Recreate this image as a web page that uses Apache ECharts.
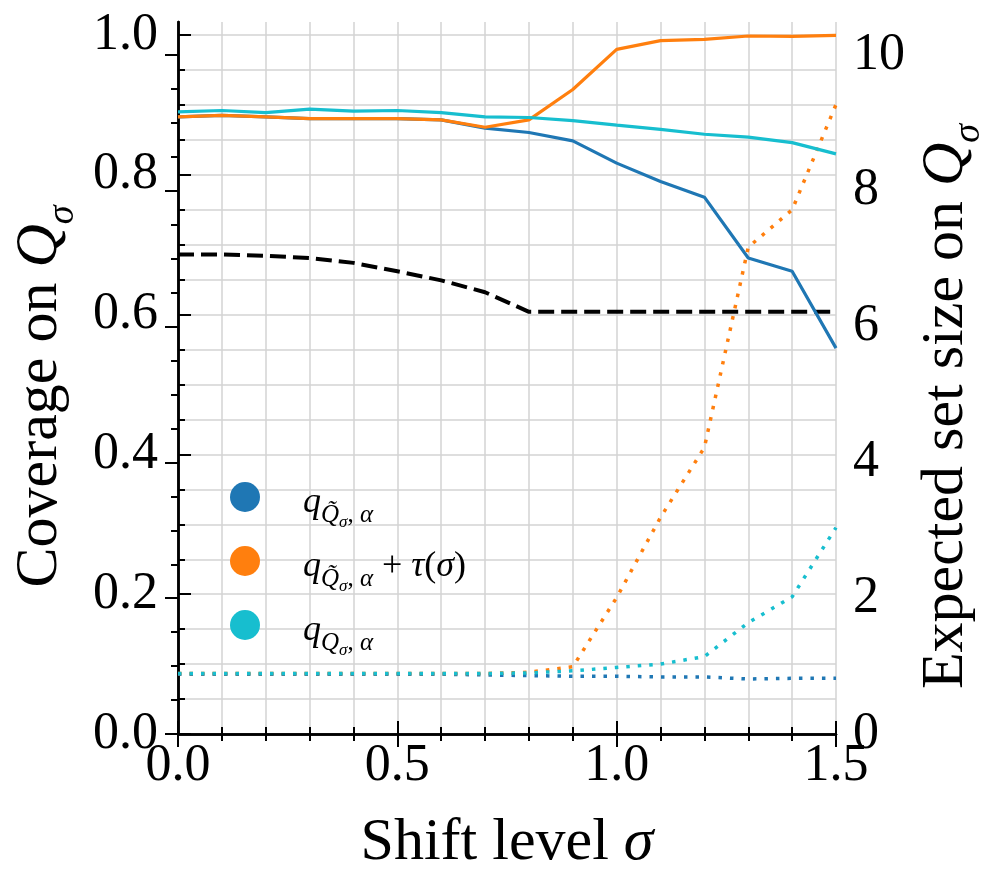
<!DOCTYPE html>
<html>
<head>
<meta charset="utf-8">
<script src="https://cdn.jsdelivr.net/npm/echarts@6/dist/echarts.min.js"></script>
<style>
  html, body { margin: 0; padding: 0; background: #fff; }
  #chart { width: 998px; height: 887px; }
</style>
</head>
<body>
<div id="chart"></div>
<script>
// shift levels
const sigma = [0.0, 0.1, 0.2, 0.3, 0.4, 0.5, 0.6, 0.7, 0.8, 0.9, 1.0, 1.1, 1.2, 1.3, 1.4, 1.5];

// coverage (left axis)
const covBase   = [0.883, 0.885, 0.883, 0.8805, 0.8805, 0.8805, 0.8786, 0.8667, 0.8605, 0.8486, 0.8167, 0.7905, 0.768, 0.681, 0.662, 0.552];
const covShift  = [0.883, 0.885, 0.883, 0.8805, 0.8805, 0.8805, 0.8786, 0.868, 0.8786, 0.922, 0.9795, 0.992, 0.9938, 0.9986, 0.998, 0.9995];
const covOracle = [0.890, 0.892, 0.889, 0.894, 0.891, 0.892, 0.889, 0.883, 0.882, 0.8776, 0.871, 0.865, 0.858, 0.854, 0.846, 0.830];
const covTarget = [0.686, 0.686, 0.684, 0.681, 0.674, 0.662, 0.649, 0.632, 0.604, 0.604, 0.604, 0.604, 0.604, 0.604, 0.604, 0.604];

// expected set size (right axis)
const sizeBase   = [0.88, 0.88, 0.88, 0.88, 0.88, 0.88, 0.88, 0.87, 0.86, 0.85, 0.85, 0.84, 0.84, 0.81, 0.82, 0.82];
const sizeShift  = [0.89, 0.89, 0.89, 0.89, 0.89, 0.89, 0.89, 0.89, 0.91, 0.99, 2.01, 3.19, 4.22, 7.17, 7.72, 9.27];
const sizeOracle = [0.89, 0.89, 0.89, 0.89, 0.89, 0.89, 0.89, 0.89, 0.90, 0.93, 0.98, 1.03, 1.14, 1.64, 2.02, 3.04];

const xTicks = [0.0, 0.5, 1.0, 1.5];
const leftTicks = [0.0, 0.2, 0.4, 0.6, 0.8, 1.0];
const rightTicks = [0, 2, 4, 6, 8, 10];

const FONT = 'Liberation Serif';
const BLUE = '#1f77b4', ORANGE = '#ff7f0e', CYAN = '#17becf';
const GRID_C = '#d3d3d3';

const pairs = arr => sigma.map((s, i) => [s, arr[i]]);

const chart = echarts.init(document.getElementById('chart'));

const box = { left: 178, right: 162, bottom: 153 };

const tickLine = { color: '#000', width: 2 };

const nameRich = {
  n: { fontFamily: FONT, fontSize: 60, lineHeight: 60, color: '#000', verticalAlign: 'top' },
  i: { fontFamily: FONT, fontSize: 60, lineHeight: 60, fontStyle: 'italic', color: '#000', verticalAlign: 'top' },
  s: { fontFamily: FONT, fontSize: 38, lineHeight: 38, fontStyle: 'italic', color: '#000', verticalAlign: 'top', padding: [34, 0, 0, 0] },
  sp: { fontFamily: FONT, fontSize: 38, lineHeight: 38, fontStyle: 'italic', color: '#000', verticalAlign: 'top', padding: [34, 24, 0, 0] }
};

const legRich = {
  q: { fontFamily: FONT, fontSize: 36, lineHeight: 36, fontStyle: 'italic', color: '#000', verticalAlign: 'top', padding: [6, 0, 0, 38] },
  t: { fontFamily: FONT, fontSize: 36, lineHeight: 36, color: '#000', verticalAlign: 'top', padding: [6, 0, 0, 0] },
  ti: { fontFamily: FONT, fontSize: 36, lineHeight: 36, fontStyle: 'italic', color: '#000', verticalAlign: 'top', padding: [6, 0, 0, 0] },
  s: { fontFamily: FONT, fontSize: 25, lineHeight: 25, fontStyle: 'italic', color: '#000', verticalAlign: 'top', padding: [24, 0, 0, 0] },
  su: { fontFamily: FONT, fontSize: 25, lineHeight: 25, color: '#000', verticalAlign: 'top', padding: [24, 0, 0, 0] },
  ss: { fontFamily: FONT, fontSize: 17, lineHeight: 17, fontStyle: 'italic', color: '#000', verticalAlign: 'top', padding: [35, 0, 0, 0] }
};

const legendText = {
  base: '{q|q}{s|Q\u0303}{ss|σ}{su|, }{s|α}',
  shift: '{q|q}{s|Q\u0303}{ss|σ}{su|, }{s|α}{t| + }{ti|τ}{t|(}{ti|σ}{t|)}',
  oracle: '{q|q}{s|Q}{ss|σ}{su|, }{s|α}'
};

const line = (name, arr, color, yIdx, type, width, z) => ({
  name: name,
  type: 'line',
  xAxisIndex: 0,
  yAxisIndex: yIdx,
  data: pairs(arr),
  showSymbol: false,
  symbol: 'none',
  z: z,
  lineStyle: { color: color, width: width, type: type, cap: 'butt' },
  itemStyle: { color: color },
  emphasis: { disabled: true }
});

chart.setOption({
  animation: false,
  backgroundColor: '#fff',
  grid: [
    Object.assign({ top: 22, outerBoundsMode: 'none' }, box),
    Object.assign({ top: 35, outerBoundsMode: 'none' }, box),
    Object.assign({ top: 55, outerBoundsMode: 'none' }, box)
  ],
  legend: {
    data: ['base', 'shift', 'oracle'],
    orient: 'vertical',
    left: 225,
    top: 474,
    icon: 'circle',
    itemWidth: 30,
    itemHeight: 30,
    itemGap: 12,
    selectedMode: false,
    itemStyle: { borderWidth: 0 },
    formatter: n => legendText[n],
    textStyle: { rich: legRich }
  },
  xAxis: [
    {
      gridIndex: 0, type: 'value', position: 'bottom',
      min: 0, max: 1.5, interval: 0.5,
      axisLine: { show: true, lineStyle: { color: '#000', width: 2.5 } },
      axisTick: { show: true, inside: true, length: 13, lineStyle: tickLine },
      minorTick: { show: true, splitNumber: 5, length: 7, lineStyle: tickLine },
      splitLine: { show: true, lineStyle: { color: GRID_C, width: 1.5 } },
      minorSplitLine: { show: true, lineStyle: { color: GRID_C, width: 1.5 } },
      axisLabel: {
        fontFamily: FONT, fontSize: 52, color: '#000', margin: 6,
        formatter: v => xTicks.some(t => Math.abs(t - v) < 1e-6) ? v.toFixed(1) : ''
      },
      name: '{n|Shift level }{i|σ}',
      nameLocation: 'middle',
      nameGap: 79,
      nameTextStyle: { rich: nameRich }
    },
    {
      gridIndex: 0, type: 'value', position: 'top',
      min: 0, max: 1.5, interval: 0.5,
      axisLine: { show: true, lineStyle: { color: '#000', width: 2.5 } },
      axisTick: { show: true, inside: true, length: 13, lineStyle: tickLine },
      minorTick: { show: true, splitNumber: 5, length: 7, lineStyle: tickLine },
      splitLine: { show: false },
      axisLabel: { show: false }
    },
    { gridIndex: 1, type: 'value', min: 0, max: 1.5, show: false },
    { gridIndex: 2, type: 'value', min: 0, max: 1.5, show: false }
  ],
  yAxis: [
    {
      gridIndex: 0, type: 'value', position: 'left',
      min: 0, max: 1.0186,
      axisLine: { show: true, lineStyle: { color: '#000', width: 2.5 } },
      axisTick: { show: false }, axisLabel: { show: false }, splitLine: { show: false }
    },
    {
      gridIndex: 0, type: 'value', position: 'right',
      min: 0, max: 10.486,
      axisLine: { show: true, lineStyle: { color: '#000', width: 2.5 } },
      axisTick: { show: false }, axisLabel: { show: false }, splitLine: { show: false }
    },
    {
      gridIndex: 1, type: 'value', position: 'left',
      min: 0, max: 1.0, interval: 0.2,
      axisLine: { show: false },
      axisTick: { show: true, inside: true, length: 13, lineStyle: tickLine },
      minorTick: { show: true, splitNumber: 4, length: 7, lineStyle: tickLine },
      splitLine: { show: true, lineStyle: { color: GRID_C, width: 1.5 } },
      minorSplitLine: { show: true, lineStyle: { color: GRID_C, width: 1.5 } },
      axisLabel: {
        fontFamily: FONT, fontSize: 52, color: '#000', margin: 20,
        formatter: v => leftTicks.some(t => Math.abs(t - v) < 1e-6) ? v.toFixed(1) : ''
      },
      name: '{n|Coverage on }{i|Q}{sp|σ}',
      nameLocation: 'middle',
      nameRotate: 90,
      nameGap: 105,
      nameTextStyle: { rich: nameRich }
    },
    {
      gridIndex: 2, type: 'value', position: 'right',
      min: 0, max: 10, interval: 2,
      axisLine: { show: false },
      axisTick: { show: true, inside: true, length: 13, lineStyle: tickLine },
      minorTick: { show: true, splitNumber: 4, length: 7, lineStyle: tickLine },
      splitLine: { show: false },
      axisLabel: {
        fontFamily: FONT, fontSize: 52, color: '#000', margin: 17,
        formatter: v => rightTicks.some(t => Math.abs(t - v) < 1e-6) ? String(v) : ''
      },
      name: '{n|Expected set size on }{i|Q}{sp|σ}',
      nameLocation: 'middle',
      nameRotate: 90,
      nameGap: 80,
      nameTextStyle: { rich: nameRich }
    }
  ],
  series: [
    line('target', covTarget, '#000', 0, [16, 7], 4, 2),
    line('base', covBase, BLUE, 0, 'solid', 3.2, 3),
    line('base', sizeBase, BLUE, 1, [3.5, 8], 3.5, 3),
    line('shift', covShift, ORANGE, 0, 'solid', 3.2, 4),
    line('shift', sizeShift, ORANGE, 1, [3.5, 8], 3.5, 4),
    line('oracle', covOracle, CYAN, 0, 'solid', 3.2, 5),
    line('oracle', sizeOracle, CYAN, 1, [3.5, 8], 3.5, 5)
  ]
});
</script>
</body>
</html>
